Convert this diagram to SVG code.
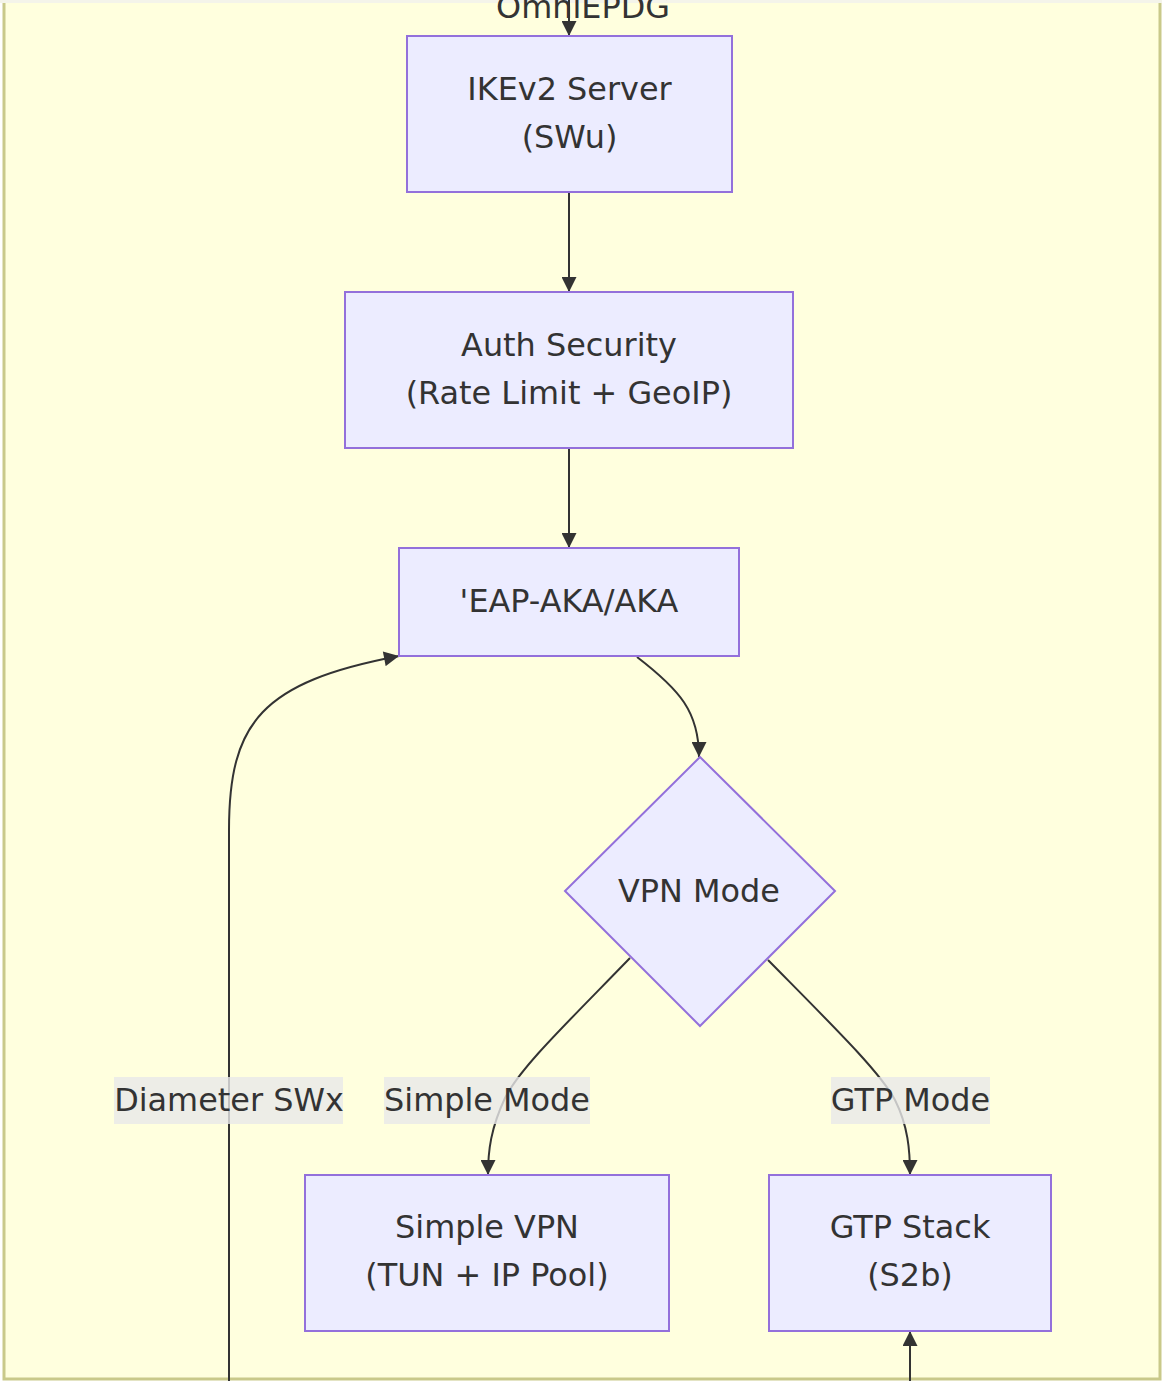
<svg xmlns="http://www.w3.org/2000/svg" width="1162" height="1381" viewBox="0 0 1162 1381">
<style>
.node rect, .node polygon { fill: #ECECFF; stroke: #9370DB; stroke-width: 2; }
.node text, .lbl text, .title { font-family: "DejaVu Sans", Verdana, sans-serif; font-size: 31.9px; fill: #333333; text-anchor: middle; dominant-baseline: central; }
.edge { fill: none; stroke: #333333; stroke-width: 2; marker-end: url(#arrow); }
.lbl rect { fill: #e8e8e8; opacity: 0.8; }
</style>
<defs>
<marker id="arrow" viewBox="0 0 10 10" refX="10" refY="5" markerUnits="userSpaceOnUse" markerWidth="17" markerHeight="15" orient="auto">
<path d="M0,0 L10,5 L0,10 z" fill="#333333"/>
</marker>
</defs>
<rect x="0" y="0" width="1162" height="1381" fill="#ffffff"/>
<g id="cluster-OmniEPDG">
<rect x="4" y="-10" width="1156" height="1389" fill="#ffffde" stroke="#c9c98a" stroke-width="3"/>
<rect x="0" y="0" width="1162" height="3" fill="#f4f4ea"/>
<text class="title" x="583" y="18" style="dominant-baseline:auto">OmniEPDG</text>
</g>
<g id="connectors">
<path class="edge" d="M569,0 L569,36"/>
<path class="edge" d="M569,192 L569,292"/>
<path class="edge" d="M569,448 L569,548"/>
<path class="edge" d="M637,657 C680,690 699,712 699,757"/>
<path class="edge" d="M630,958 C565,1025 520,1068 505,1098 C491,1128 488,1150 488,1175"/>
<path class="edge" d="M768,960 C835,1028 880,1072 895,1100 C908,1126 910,1150 910,1175"/>
<path class="edge" d="M229,1381 L229,830 C229,722 262,682 399,656"/>
<path class="edge" d="M910,1381 L910,1331"/>
</g>
<g id="labels">
<g class="lbl" id="label-diameter"><rect x="114" y="1077" width="229" height="47"/><text x="229" y="1100">Diameter SWx</text></g>
<g class="lbl" id="label-simple"><rect x="384" y="1077" width="206" height="47"/><text x="487" y="1100">Simple Mode</text></g>
<g class="lbl" id="label-gtp"><rect x="831" y="1077" width="159" height="47"/><text x="910.5" y="1100">GTP Mode</text></g>
</g>
<g class="node" id="node-ikev2">
<rect x="407" y="36" width="325" height="156"/>
<text x="569.5" y="89">IKEv2 Server</text>
<text x="569.5" y="137">(SWu)</text>
</g>
<g class="node" id="node-auth">
<rect x="345" y="292" width="448" height="156"/>
<text x="569" y="345">Auth Security</text>
<text x="569" y="393">(Rate Limit + GeoIP)</text>
</g>
<g class="node" id="node-eap">
<rect x="399" y="548" width="340" height="108"/>
<text x="569" y="601">'EAP-AKA/AKA</text>
</g>
<g class="node" id="node-vpn">
<polygon points="700,757 835,891 700,1026 565,891"/>
<text x="699" y="891">VPN Mode</text>
</g>
<g class="node" id="node-simple">
<rect x="305" y="1175" width="364" height="156"/>
<text x="487" y="1227">Simple VPN</text>
<text x="487" y="1275">(TUN + IP Pool)</text>
</g>
<g class="node" id="node-gtp">
<rect x="769" y="1175" width="282" height="156"/>
<text x="910" y="1227">GTP Stack</text>
<text x="910" y="1275">(S2b)</text>
</g>
</svg>
